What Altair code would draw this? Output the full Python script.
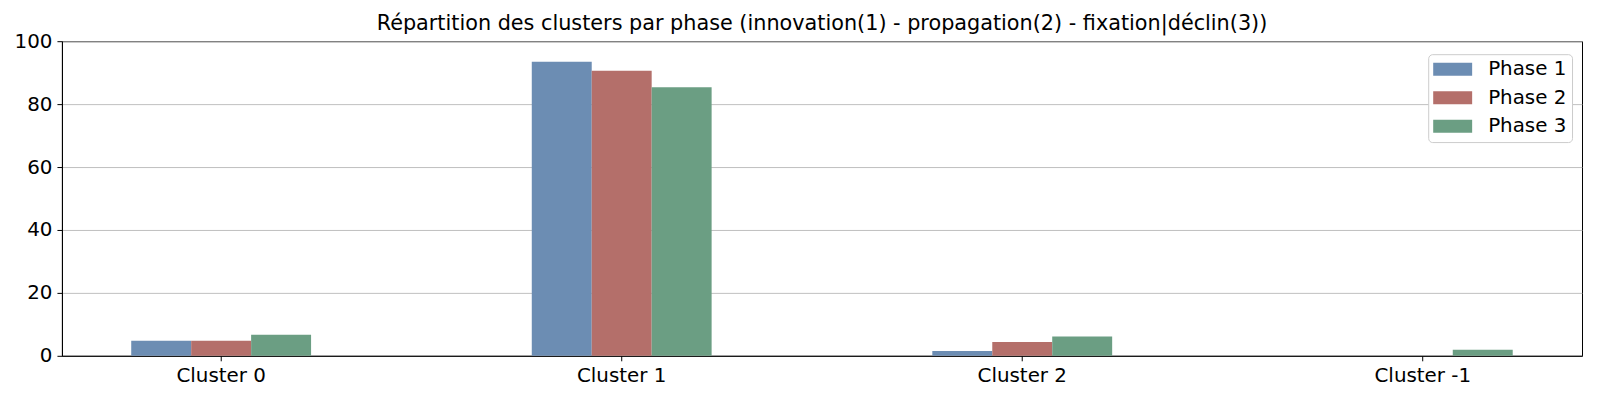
import altair as alt
import pandas as pd

clusters = ["Cluster 0", "Cluster 1", "Cluster 2", "Cluster -1"]
phases = ["Phase 1", "Phase 2", "Phase 3"]
phase1 = [4.8, 93.5, 1.5, 0.0]
phase2 = [4.8, 90.6, 4.4, 0.0]
phase3 = [6.7, 85.4, 6.1, 1.9]
colors = ["#6c8db3", "#b46f6a", "#6b9e83"]
title_text = "Répartition des clusters par phase (innovation(1) - propagation(2) - fixation|déclin(3))"

rows = []
for ph, vals in zip(phases, [phase1, phase2, phase3]):
    for c, v in zip(clusters, vals):
        rows.append({"cluster": c, "phase": ph, "value": v})
df = pd.DataFrame(rows)

FONT = "DejaVu Sans"
FS = 19.9

chart = (
    alt.Chart(df)
    .mark_bar()
    .encode(
        x=alt.X(
            "cluster:N",
            sort=clusters,
            scale=alt.Scale(paddingInner=0.551, paddingOuter=0.173),
            axis=alt.Axis(title=None, labelAngle=0, grid=False),
        ),
        xOffset=alt.XOffset(
            "phase:N", sort=phases, scale=alt.Scale(paddingInner=0, paddingOuter=0)
        ),
        y=alt.Y(
            "value:Q",
            scale=alt.Scale(domain=[0, 100], nice=False),
            axis=alt.Axis(
                title=None,
                values=[0, 20, 40, 60, 80, 100],
                grid=True,
                gridColor="#b0b0b0",
                gridWidth=0.8,
            ),
        ),
        color=alt.Color(
            "phase:N",
            sort=phases,
            scale=alt.Scale(domain=phases, range=colors),
            legend=alt.Legend(
                title=None,
                orient="none",
                legendX=1368,
                legendY=13,
                symbolType="M-1,-0.65H2.9V0.65H-1Z",
                symbolSize=400,
                symbolStrokeWidth=0,
                symbolOpacity=1,
                labelOffset=35,
                labelFont=FONT,
                labelFontSize=FS,
                labelColor="black",
                rowPadding=8.6,
                padding=5,
                strokeColor="#cccccc",
                fillColor="white",
                cornerRadius=4,
            ),
        ),
    )
    .properties(
        width=1522,
        height=315,
        padding={"left": 54, "top": 33, "right": 10, "bottom": 40},
        autosize=alt.AutoSizeParams(type="none"),
        title=alt.TitleParams(
            text=title_text,
            font=FONT,
            fontSize=20.8,
            fontWeight="normal",
            color="black",
            anchor="middle",
            frame="group",
            baseline="bottom",
            offset=5,
            dy=29,
        ),
    )
    .configure_view(stroke="black", strokeWidth=1)
    .configure_axis(
        domainColor="black",
        domainWidth=1,
        tickColor="black",
        tickWidth=1,
        tickSize=5,
        labelColor="black",
        labelFont=FONT,
        labelFontSize=FS,
        labelPadding=5,
    )
)

chart.save("out.html", embed_options={"renderer": "svg", "actions": False})
